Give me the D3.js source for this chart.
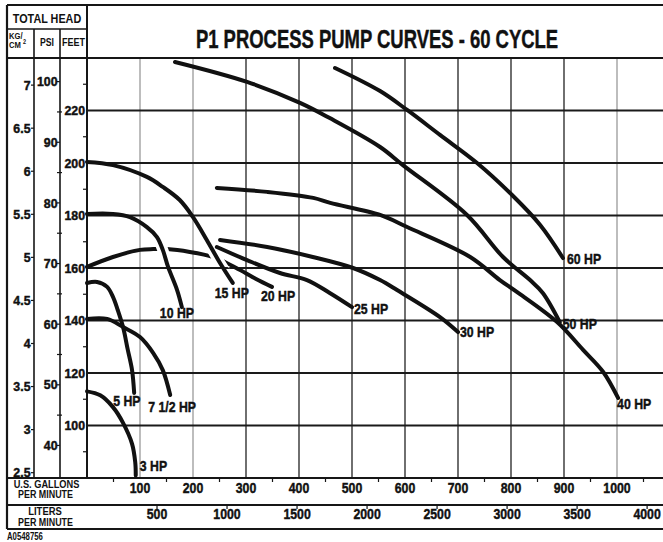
<!DOCTYPE html>
<html><head><meta charset="utf-8">
<script src="https://cdn.jsdelivr.net/npm/d3@7"></script>
<style>
body{margin:0;background:#fff}
svg{display:block}
text{font-family:'Liberation Sans',Arial,Helvetica,sans-serif;font-weight:bold;fill:#111}
text.heavy{stroke:#111;stroke-width:0.45px}
</style>
</head><body><svg id="c" width="663" height="542"></svg>
<script>
// ---------- data ----------
const titleText = "P1 PROCESS PUMP CURVES - 60 CYCLE";
const gpmTicks = [100,200,300,400,500,600,700,800,900,1000];
const gpmMinorTicks = [50,150,250,350,450,550,650,750,850,950,1050];
const literTicks = [500,1000,1500,2000,2500,3000,3500,4000];
const feetTicks = [100,120,140,160,180,200,220];
const feetMinorTicks = [90,110,130,150,170,190,210,230];
const psiTicks = [40,50,60,70,80,90,100];
const psiMinorTicks = [45,55,65,75,85,95];
const kgTicks = [2.5,3,3.5,4,4.5,5,5.5,6,6.5,7];
const curveNames = ["3 HP","5 HP","7 1/2 HP","10 HP","15 HP","20 HP","25 HP","30 HP","40 HP","50 HP","60 HP"];
// each curve: [gpm, total head in feet]
const hp3  = [[0,113],[25,111.5],[49,107],[68,101],[85,93],[91,86],[92,81]];
const hp5  = [[0,154.3],[19,154.7],[38,152.8],[49,149],[58,144],[68,137.5],[77,128.8],[85,121.1],[89,112.4]];
const hp7  = [[0,140.6],[38,140.6],[68,137.5],[100,133.7],[125,127.6],[143,121.1],[157,111.6]];
const hp10 = [[0,180.6],[49,180.6],[81,179.4],[113,175.6],[132,171.8],[143,166.9],[153,160.4],[170,151.6],[179,145.1]];
const hp15 = [[0,200.4],[49,199.2],[113,194.7],[143,190.9],[175,185.9],[200,179.4],[226,170.7],[251,161.9],[275,154.3]];
const hp20 = [[0,160.4],[49,164.2],[100,166.9],[125,167.2],[151,167.2],[194,166.1],[238,164.2],[260,162.3],[289,159.2],[319,155.8],[349,152.8]];
const hp25 = [[245,168],[302,163],[364,158.1],[415,155.4],[458,150.5],[500,145.1]];
const hp30 = [[251,170.7],[340,168],[426,164.2],[502,160],[553,155.4],[585,151.6],[666,141.3],[700,135.6]];
const hp40 = [[245,190.5],[340,189],[427,186.7],[459,184.8],[553,180.2],[604,175.6],[723,164.2],[779,155.4],[811,150.9],[887,139.4],[936,128.8],[974,120.4],[1002,110.5]];
const hp50 = [[166,238.5],[302,230.9],[402,222.9],[458,217.1],[553,206.1],[596,199.2],[717,180.2],[785,164.2],[836,155.4],[860,150.5],[892,139.4]];
const hp60 = [[468,236.2],[553,227.4],[604,220.2],[666,210.7],[736,200],[802,187.8],[855,176.4],[898,163.8]];
const curves = [hp3,hp5,hp7,hp10,hp15,hp20,hp25,hp30,hp40,hp50,hp60];

// ---------- layout ----------
const W = 663, L = 7, T = 5;
const c1 = 34, c2 = 60, pL = 87, pT = 58, pB = 478, headMid = 29, gRowB = 505, lRowB = 529;
const FT_PER_PSI = 2.31, FT_PER_KG = 32.81, L_PER_GAL = 3.785;

const svg = d3.select("#c");
const x = d3.scaleLinear().domain([0,1000]).range([pL,617]);
const y = d3.scaleLinear().domain([80,240]).range([pB,pT]);

const ink = "#161616";
function hline(y0,x0,x1,w,col){svg.append("line").attr("x1",x0).attr("x2",x1).attr("y1",y0).attr("y2",y0).attr("stroke",col||ink).attr("stroke-width",w);}
function vline(x0,y0,y1,w,col){svg.append("line").attr("x1",x0).attr("x2",x0).attr("y1",y0).attr("y2",y1).attr("stroke",col||ink).attr("stroke-width",w);}
// condensed text: horizontal squeeze of a bold sans
function txt(px,py,str,size,anchor,sx,cls){
  return svg.append("text").attr("transform",`translate(${px},${py}) scale(${sx||0.82},1)`)
    .attr("class",cls||null).attr("text-anchor",anchor||"start").attr("font-size",size).text(str);
}

// vertical grid
gpmTicks.forEach(g=>{
  const light = (g===100||g===200||g===1000);
  vline(x(g), pT, pB, light?1.3:1.4, light?"#9a9a9a":"#333");
});
// horizontal grid
feetTicks.forEach(f=>hline(y(f), pL, W, 2.2, "#1a1a1a"));

// frame
hline(T, L, W, 2.2);
hline(pT, L, W, 2.2);
hline(headMid, L, pL, 1.6);
hline(pB, L, W, 2.2);
hline(gRowB, L, W, 2);
hline(lRowB, L, W, 2.2);
vline(L, T, lRowB, 2.2);
vline(pL, T, pB, 2);
vline(c1, headMid, pB, 1.6);
vline(c2, headMid, pB, 1.6);

// header texts
txt((L+pL)/2, 23, "TOTAL HEAD", 13.5, "middle", 0.8);
txt(9, 38.5, "KG/", 9, "start", 0.85);
txt(9, 48, "CM", 9, "start", 0.85);
txt(23, 44, "2", 6.5, "start", 0.85);
txt((c1+c2)/2, 45.5, "PSI", 10, "middle", 0.87);
txt((c2+pL)/2, 45.5, "FEET", 10, "middle", 0.9);
txt(377, 47.5, titleText, 26, "middle", 0.71, "heavy");

// KG/CM2 axis
kgTicks.forEach(k=>{
  const yy = y(k*FT_PER_KG);
  hline(yy, c1-3, c1, 1.2);
  txt(c1-3.5, yy+4.6, k, 13, "end", 0.95, "heavy");
});
// PSI axis
psiTicks.forEach(p=>{
  const yy = y(p*FT_PER_PSI);
  hline(yy, c2-3, c2, 1.2);
  txt(c2-2.5, yy+4.6, p, 13, "end", 0.95, "heavy");
});
psiMinorTicks.forEach(p=>hline(y(p*FT_PER_PSI), c2-3, c2+2, 1.2));
// FEET axis
feetTicks.forEach(f=>txt(pL-2, y(f)+4.8, f, 13, "end", 0.95, "heavy"));
feetMinorTicks.forEach(f=>hline(y(f), pL-4, pL, 1.2));

// GPM row
gpmTicks.forEach(g=>txt(x(g), 492.5, g, 15, "middle", 0.82, "heavy"));
gpmMinorTicks.forEach(g=>vline(x(g), pB, pB+4, 1.2));
txt(46.5, 488, "U.S. GALLONS", 10.5, "middle", 0.88);
txt(45.5, 498, "PER MINUTE", 10.5, "middle", 0.85);
// Liters row
literTicks.forEach(l=>{
  const xx = x(l/L_PER_GAL);
  vline(xx, gRowB, gRowB+4, 1.2);
  txt(xx, 518.5, l, 15, "middle", 0.82, "heavy");
});
txt(45, 514.5, "LITERS", 10.5, "middle", 0.9);
txt(45.5, 525.5, "PER MINUTE", 10.5, "middle", 0.85);
txt(7, 540, "A0548756", 10, "start", 0.78);

// curves
const line = d3.line().x(d=>x(d[0])).y(d=>y(d[1])).curve(d3.curveCatmullRom.alpha(0.5));
// mask: only the neighbourhood of the 20 HP curve, where the 10 HP and 15 HP curves "hop" over it
const defs = svg.append("defs");
const mask = defs.append("mask").attr("id","m20").attr("maskUnits","userSpaceOnUse")
  .attr("x",0).attr("y",0).attr("width",663).attr("height",542);
mask.append("path").attr("d",line(hp20)).attr("fill","none").attr("stroke","#fff").attr("stroke-width",7);

function drawCurve(c){
  svg.append("path").attr("d",line(c)).attr("fill","none").attr("stroke","#111")
    .attr("stroke-width",4).attr("stroke-linecap","round").attr("stroke-linejoin","round");
}
curves.forEach(c=>{ if(c!==hp10 && c!==hp15) drawCurve(c); });
[hp10,hp15].forEach(c=>{
  svg.append("path").attr("d",line(c)).attr("fill","none").attr("stroke","#fff")
    .attr("stroke-width",11).attr("mask","url(#m20)");
});
[hp10,hp15].forEach(drawCurve);

const labelOff = [[4,-4],[-21,13],[-22,17],[-22,11],[-18,15],[-11,14],[2,7],[2,5],[-1,11],[3,7],[4,6]];
curves.forEach((c,i)=>{
  const e = c[c.length-1];
  txt(x(e[0])+labelOff[i][0], y(e[1])+labelOff[i][1], curveNames[i], 15, "start", 0.82, "heavy");
});
</script>
</body></html>
